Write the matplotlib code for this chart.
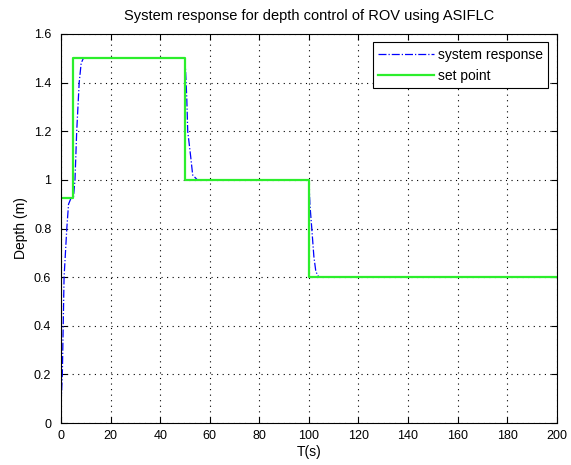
import numpy as np
import matplotlib.pyplot as plt

plt.rcParams['font.family'] = ['Liberation Sans', 'DejaVu Sans']

# set point (step changes in desired depth)
sp_t = [0, 5, 5, 50, 50, 100, 100, 200]
sp_depth = [0.925, 0.925, 1.5, 1.5, 1.0, 1.0, 0.6, 0.6]

# ROV depth response
resp_t = [0, 0.5, 1.2, 2.3, 3.0, 4.0, 5.0, 5.6, 6.3, 7.3, 8.1, 9.0, 20, 50,
          50.4, 50.7, 51.1, 52.3, 53.1, 55, 70, 100,
          100.4, 101.1, 102.0, 102.8, 104, 150, 200]
resp_depth = [0.08, 0.2, 0.6, 0.8, 0.9, 0.925, 0.93, 1.0, 1.2, 1.4, 1.48, 1.5, 1.5, 1.5,
              1.41, 1.34, 1.2, 1.095, 1.02, 1.0, 1.0, 1.0,
              0.9, 0.808, 0.685, 0.623, 0.6, 0.6, 0.6]

x_ticks = np.arange(0, 201, 20)
y_ticks = [0, 0.2, 0.4, 0.6, 0.8, 1, 1.2, 1.4, 1.6]
y_labels = ['0', '0.2', '0.4', '0.6', '0.8', '1', '1.2', '1.4', '1.6']

fig = plt.figure(figsize=(5.71, 4.65), dpi=100)
ax = fig.add_axes([0.107, 0.09, 0.868, 0.837])

ax.plot(resp_t, resp_depth, color='blue', ls='-.', lw=0.9, label='system response')
ax.plot(sp_t, sp_depth, color='#2cee2c', ls='-', lw=1.6, label='set point')

ax.set_xlim(0, 200)
ax.set_ylim(0, 1.6)
ax.set_xticks(x_ticks)
ax.set_yticks(y_ticks)
ax.set_yticklabels(y_labels)
ax.tick_params(direction='in', length=4, top=True, right=True, labelsize=9, colors='black')
ax.tick_params(axis='y', pad=7)
ax.tick_params(axis='x', pad=5)
ax.grid(True, ls=(0, (1, 4)), color='black', lw=0.8)
for s in ax.spines.values():
    s.set_color('black')
    s.set_linewidth(0.8)

ax.set_title('System response for depth control of ROV using ASIFLC', fontsize=10.5, pad=10)
ax.set_xlabel('T(s)', fontsize=10, labelpad=2)
ax.set_ylabel('Depth (m)', fontsize=10, labelpad=4)

leg = ax.legend(loc='upper right', fontsize=10, fancybox=False, framealpha=1,
                edgecolor='black', handlelength=4.0, handletextpad=0.3,
                borderaxespad=0.6)
leg.get_frame().set_linewidth(0.8)

fig.savefig('out.png', dpi=100)
